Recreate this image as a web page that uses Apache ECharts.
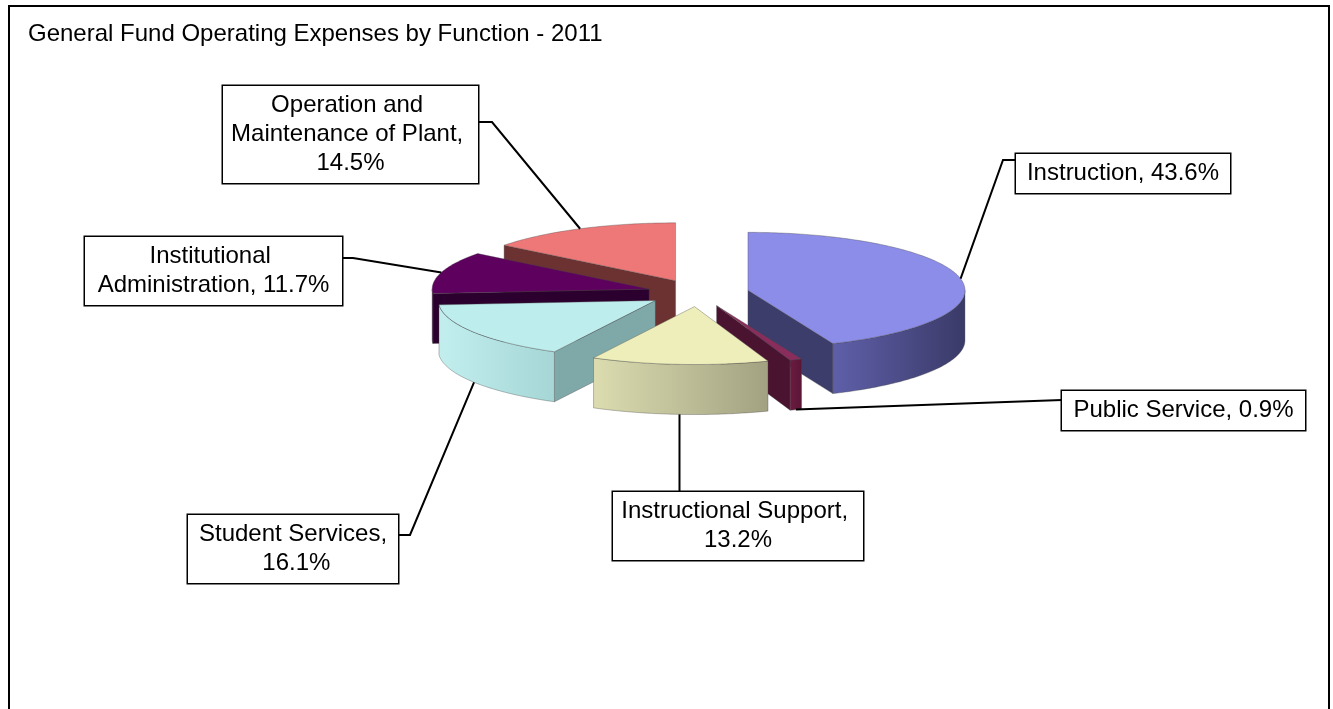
<!DOCTYPE html>
<html>
<head>
<meta charset="utf-8">
<title>General Fund Operating Expenses by Function - 2011</title>
<script src="https://cdn.jsdelivr.net/npm/echarts@6/dist/echarts.min.js"></script>
<style>
  html, body { margin: 0; padding: 0; background: #fff; }
  #chart { width: 1333px; height: 709px; }
</style>
</head>
<body>
<div id="chart"></div>
<script>
// ---- data ----
const categories = [
  'Instruction',
  'Public Service',
  'Instructional Support',
  'Student Services',
  'Institutional Administration',
  'Operation and Maintenance of Plant'
];
const shares = [43.6, 0.9, 13.2, 16.1, 11.7, 14.5];

// ---- face colours (top, cut faces, outer wall lit end / shaded end) ----
const topColors = ['#8c8ce9', '#8a2d5c', '#eeeebb', '#bdeded', '#5e005e', '#ee7777'];
const cutColors = ['#3d3d6c', '#4a1430', '#9a9a78', '#7fa9a9', '#2c002e', '#6c3131'];
const rimLight  = ['#5f5faa', '#6b1c40', '#dcdcb0', '#c2eeee', '#460046', '#7a3838'];
const rimDark   = ['#3a3a68', '#5a1636', '#a2a282', '#a6d6d6', '#360036', '#6a3030'];

// ---- layout ----
const FONT = '"Liberation Sans", Arial, sans-serif';
const PIE_CENTER = [698, 293];
const PIE_RADIUS = 217;
const TILT = 0.267;      // vertical squash of the pie disc
const DEPTH = 50;        // thickness of the pie in pixels
const EXPLODE = 0.235;   // slice offset, in radius units

// label boxes: where each callout sits and how its leader attaches
const labelBoxes = [
  { left: 1016, top: 154, width: 214, side: 'left',  attachY: 160, elbow: 13 },
  { left: 1062, top: 391, width: 243, side: 'left',  attachY: 400, elbow: 0 },
  { left: 613,  top: 492, width: 250, side: 'top' },
  { left: 188,  top: 515, width: 210, side: 'right', attachY: 535, elbow: 12 },
  { left: 85,   top: 237, width: 257, side: 'right', attachY: 258, elbow: 11 },
  { left: 223,  top: 86,  width: 255, side: 'right', attachY: 122, elbow: 14 }
];

// cumulative start/end of every slice, in percent of the full turn
let acc = 0;
const slices = shares.map((v, i) => {
  const s = acc; acc += v;
  return { i: i, s: s, e: acc };
});
const toRad = p => p / 100 * 2 * Math.PI;
// paint from the back of the disc to the front
slices.sort((a, b) => (-Math.cos(toRad((a.s + a.e) / 2))) - (-Math.cos(toRad((b.s + b.e) / 2))));
const seriesData = slices.map(d => ({ name: categories[d.i], value: [d.s, d.e, d.i] }));

function renderItem(params, api) {
  const s = api.value(0), e = api.value(1), i = api.value(2);
  const zBase = params.dataIndex * 10;
  const c = api.coord([0, 0]);
  const flat = p => [p[0], c[1] + (p[1] - c[1]) * TILT];
  const mid = (s + e) / 2;
  const m = flat(api.coord([EXPLODE, mid]));
  const off = [m[0] - c[0], m[1] - c[1]];
  const rim = (p, dz) => {
    const q = flat(api.coord([1, p]));
    return [q[0] + off[0], q[1] + off[1] + (dz || 0)];
  };
  const hub = dz => [c[0] + off[0], c[1] + off[1] + (dz || 0)];
  const arc = (a, b, dz) => {
    const pts = [];
    const n = Math.max(2, Math.ceil(Math.abs(b - a) / 0.25));
    for (let k = 0; k <= n; k++) pts.push(rim(a + (b - a) * k / n, dz));
    return pts;
  };
  const edge = 'rgba(70,70,70,0.45)';
  const poly = (points, fill, z) => ({
    type: 'polygon', z2: zBase + z,
    shape: { points: points },
    style: { fill: fill, stroke: edge, lineWidth: 0.8 }
  });

  const children = [];
  // cut faces that turn towards the viewer
  if (Math.sin(toRad(s)) < -1e-6) {
    children.push(poly([hub(0), rim(s, 0), rim(s, DEPTH), hub(DEPTH)], cutColors[i], 1));
  }
  if (Math.sin(toRad(e)) > 1e-6) {
    children.push(poly([hub(0), rim(e, 0), rim(e, DEPTH), hub(DEPTH)], cutColors[i], 1));
  }
  // outer wall on the front half of the disc
  const a = Math.max(s, 25), b = Math.min(e, 75);
  if (b > a) {
    const topEdge = arc(a, b, 0);
    const xs = topEdge.map(p => p[0]);
    const x0 = Math.min.apply(null, xs), x1 = Math.max.apply(null, xs);
    const grad = {
      type: 'linear', x: x0, y: 0, x2: x1 + 0.01, y2: 0, global: true,
      colorStops: [{ offset: 0, color: rimLight[i] }, { offset: 1, color: rimDark[i] }]
    };
    children.push(poly(topEdge.concat(arc(b, a, DEPTH)), grad, 2));
  }
  // top face
  children.push(poly([hub(0)].concat(arc(s, e, 0)), topColors[i], 3));

  // callout with leader line
  const box = labelBoxes[i];
  const front = Math.cos(toRad(mid)) < 0;
  const A = rim(mid, front ? DEPTH : 0);
  let pts;
  if (box.side === 'left') {
    pts = [A, [box.left - box.elbow, box.attachY], [box.left, box.attachY]];
  } else if (box.side === 'right') {
    const r = box.left + box.width;
    pts = [A, [r + box.elbow, box.attachY], [r, box.attachY]];
  } else {
    pts = [A, [A[0], box.top]];
  }
  children.push({
    type: 'polyline', z2: 1000,
    shape: { points: pts },
    style: { fill: null, stroke: '#000', lineWidth: 2 }
  });
  children.push({
    type: 'text', z2: 1001,
    style: {
      text: categories[i] + ', ' + shares[i].toFixed(1) + '%',
      x: box.left + box.width / 2,
      y: box.top,
      align: 'center',
      verticalAlign: 'top',
      width: box.width - 16,
      overflow: 'break',
      lineHeight: 29,
      padding: [5, 8, 5, 8],
      font: '24px ' + FONT,
      fill: '#000',
      backgroundColor: '#fff',
      borderColor: '#000',
      borderWidth: 1.5
    }
  });
  return { type: 'group', children: children };
}

const chart = echarts.init(document.getElementById('chart'), null, { renderer: 'canvas' });
chart.setOption({
  animation: false,
  backgroundColor: '#fff',
  graphic: [
    {
      type: 'rect', z: 0,
      shape: { x: 9, y: 6, width: 1320, height: 720 },
      style: { fill: 'none', stroke: '#000', lineWidth: 2 }
    },
    {
      type: 'text', left: 28, top: 22, z: 10,
      style: { text: 'General Fund Operating Expenses by Function - 2011', font: '24px ' + FONT, fill: '#000' }
    }
  ],
  polar: { center: PIE_CENTER, radius: PIE_RADIUS },
  angleAxis: { type: 'value', min: 0, max: 100, startAngle: 90, clockwise: true, show: false },
  radiusAxis: { type: 'value', min: 0, max: 1, show: false },
  series: [{
    type: 'custom',
    coordinateSystem: 'polar',
    clip: false,
    renderItem: renderItem,
    data: seriesData
  }]
});
</script>
</body>
</html>
